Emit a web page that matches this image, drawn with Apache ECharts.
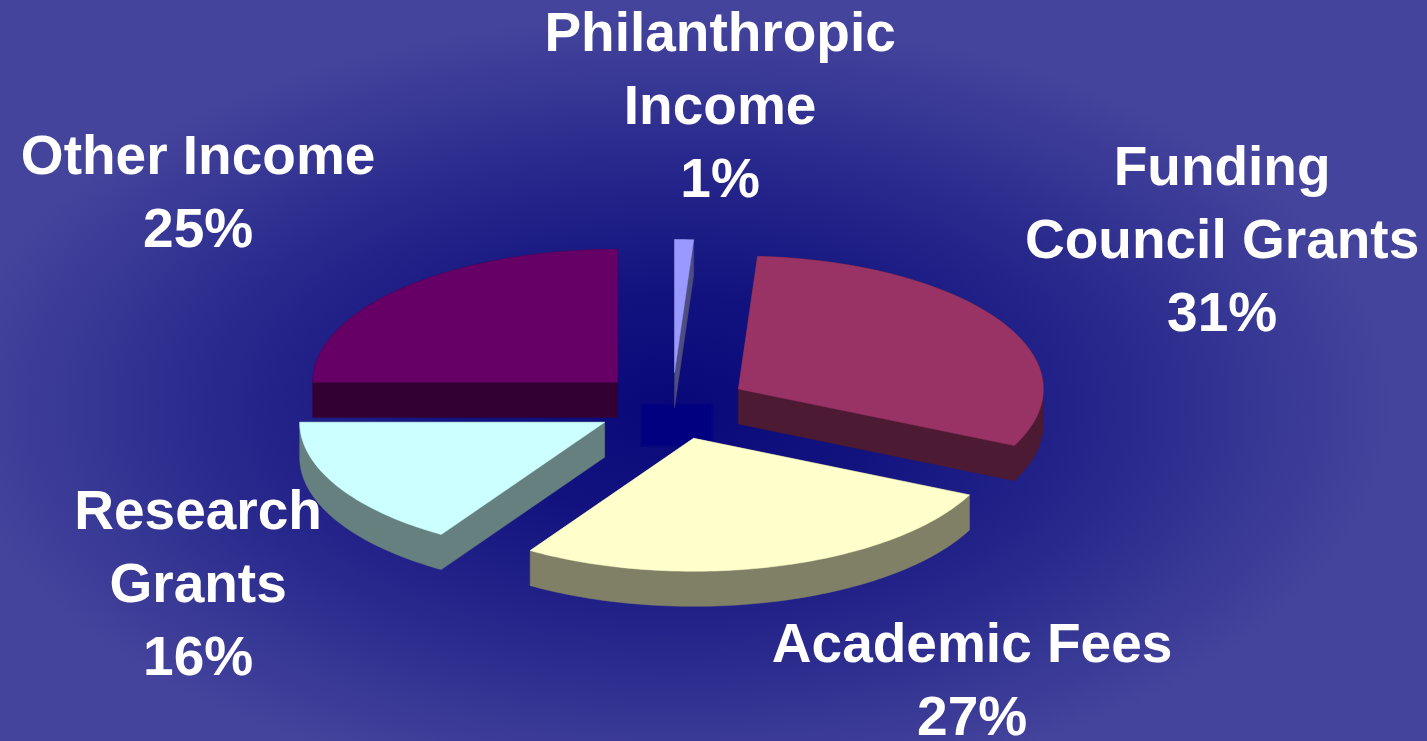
<!DOCTYPE html>
<html>
<head>
<meta charset="utf-8">
<script src="https://cdn.jsdelivr.net/npm/echarts@6/dist/echarts.min.js"></script>
<style>
html, body { margin: 0; padding: 0; }
#chart {
    width: 1427px;
    height: 741px;
    background: radial-gradient(ellipse 720px 390px at 672px 406px, #08087a 0%, #12127f 28%, #24248a 58%, #393996 85%, #44449d 100%);
}
</style>
</head>
<body>
<div id="chart"></div>
<script>
// income breakdown
const names = ['Philanthropic\nIncome', 'Funding\nCouncil Grants', 'Academic Fees', 'Research\nGrants', 'Other Income'];
const values = [1, 31, 27, 16, 25];
const topColors = ['#9999ff', '#993366', '#ffffcc', '#ccffff', '#660066'];
const sideColors = ['#4d4d80', '#4d1a33', '#808066', '#668080', '#330033'];
// label position relative to the pie centre, px
const labelOffsets = [[48, -297], [550, -163], [300, 277], [-474, 181], [-474, -211]];

const total = values.reduce((a, b) => a + b, 0);
const startAngles = [];
let acc = 0;
values.forEach(v => {
    startAngles.push(acc / total * Math.PI * 2);
    acc += v;
});

function hull(pts) {
    pts = pts.slice().sort((a, b) => a[0] - b[0] || a[1] - b[1]);
    const cross = (o, a, b) => (a[0] - o[0]) * (b[1] - o[1]) - (a[1] - o[1]) * (b[0] - o[0]);
    const lower = [], upper = [];
    for (const p of pts) {
        while (lower.length >= 2 && cross(lower[lower.length - 2], lower[lower.length - 1], p) <= 0) lower.pop();
        lower.push(p);
    }
    for (let i = pts.length - 1; i >= 0; i--) {
        const p = pts[i];
        while (upper.length >= 2 && cross(upper[upper.length - 2], upper[upper.length - 1], p) <= 0) upper.pop();
        upper.push(p);
    }
    upper.pop();
    lower.pop();
    return lower.concat(upper);
}

function renderItem(params, api) {
    const i = params.dataIndex;
    const W = api.getWidth(), H = api.getHeight();
    const cx = W * 0.471, cy = H * 0.548;
    const rx = W * 0.2137, ry = rx * 0.436;
    const depth = rx * 0.115, explode = rx * 0.2525;
    const v = api.value(0);
    const a0 = startAngles[i], a1 = a0 + v / total * Math.PI * 2;
    const mid = (a0 + a1) / 2;
    const vx = cx + explode * Math.sin(mid);
    const vy = cy - explode * (ry / rx) * Math.cos(mid);
    const top = [[vx, vy]];
    const steps = Math.max(2, Math.ceil((a1 - a0) / 0.02));
    for (let s = 0; s <= steps; s++) {
        const t = a0 + (a1 - a0) * s / steps;
        top.push([vx + rx * Math.sin(t), vy - ry * Math.cos(t)]);
    }
    const bottom = top.map(p => [p[0], p[1] + depth]);
    const side = hull(top.concat(bottom));
    const pct = Math.round(v / total * 100) + '%';
    return {
        type: 'group',
        children: [
            { type: 'polygon', shape: { points: side }, style: { fill: sideColors[i], stroke: sideColors[i], lineWidth: 0.5 } },
            { type: 'polygon', shape: { points: top }, style: { fill: topColors[i], stroke: topColors[i], lineWidth: 0.5 } },
            {
                type: 'text',
                x: cx + labelOffsets[i][0],
                y: cy + labelOffsets[i][1],
                style: {
                    text: names[i] + '\n' + pct,
                    fill: '#ffffff',
                    fontSize: 55,
                    fontWeight: 'bold',
                    fontFamily: '"Liberation Sans", Arial, sans-serif',
                    align: 'center',
                    verticalAlign: 'middle',
                    lineHeight: 73
                }
            }
        ]
    };
}

const chart = echarts.init(document.getElementById('chart'));
const W = chart.getWidth(), H = chart.getHeight();
chart.setOption({
    backgroundColor: 'transparent',
    animation: false,
    graphic: [{
        type: 'rect',
        z: 0,
        shape: { x: W * 0.471 - 31, y: H * 0.548 - 2, width: 71, height: 42 },
        style: { fill: '#000080', stroke: '#06067c', lineWidth: 2 }
    }],
    series: [{
        type: 'custom',
        coordinateSystem: 'none',
        z: 5,
        data: values.map(v => [v]),
        renderItem: renderItem
    }]
});
</script>
</body>
</html>
